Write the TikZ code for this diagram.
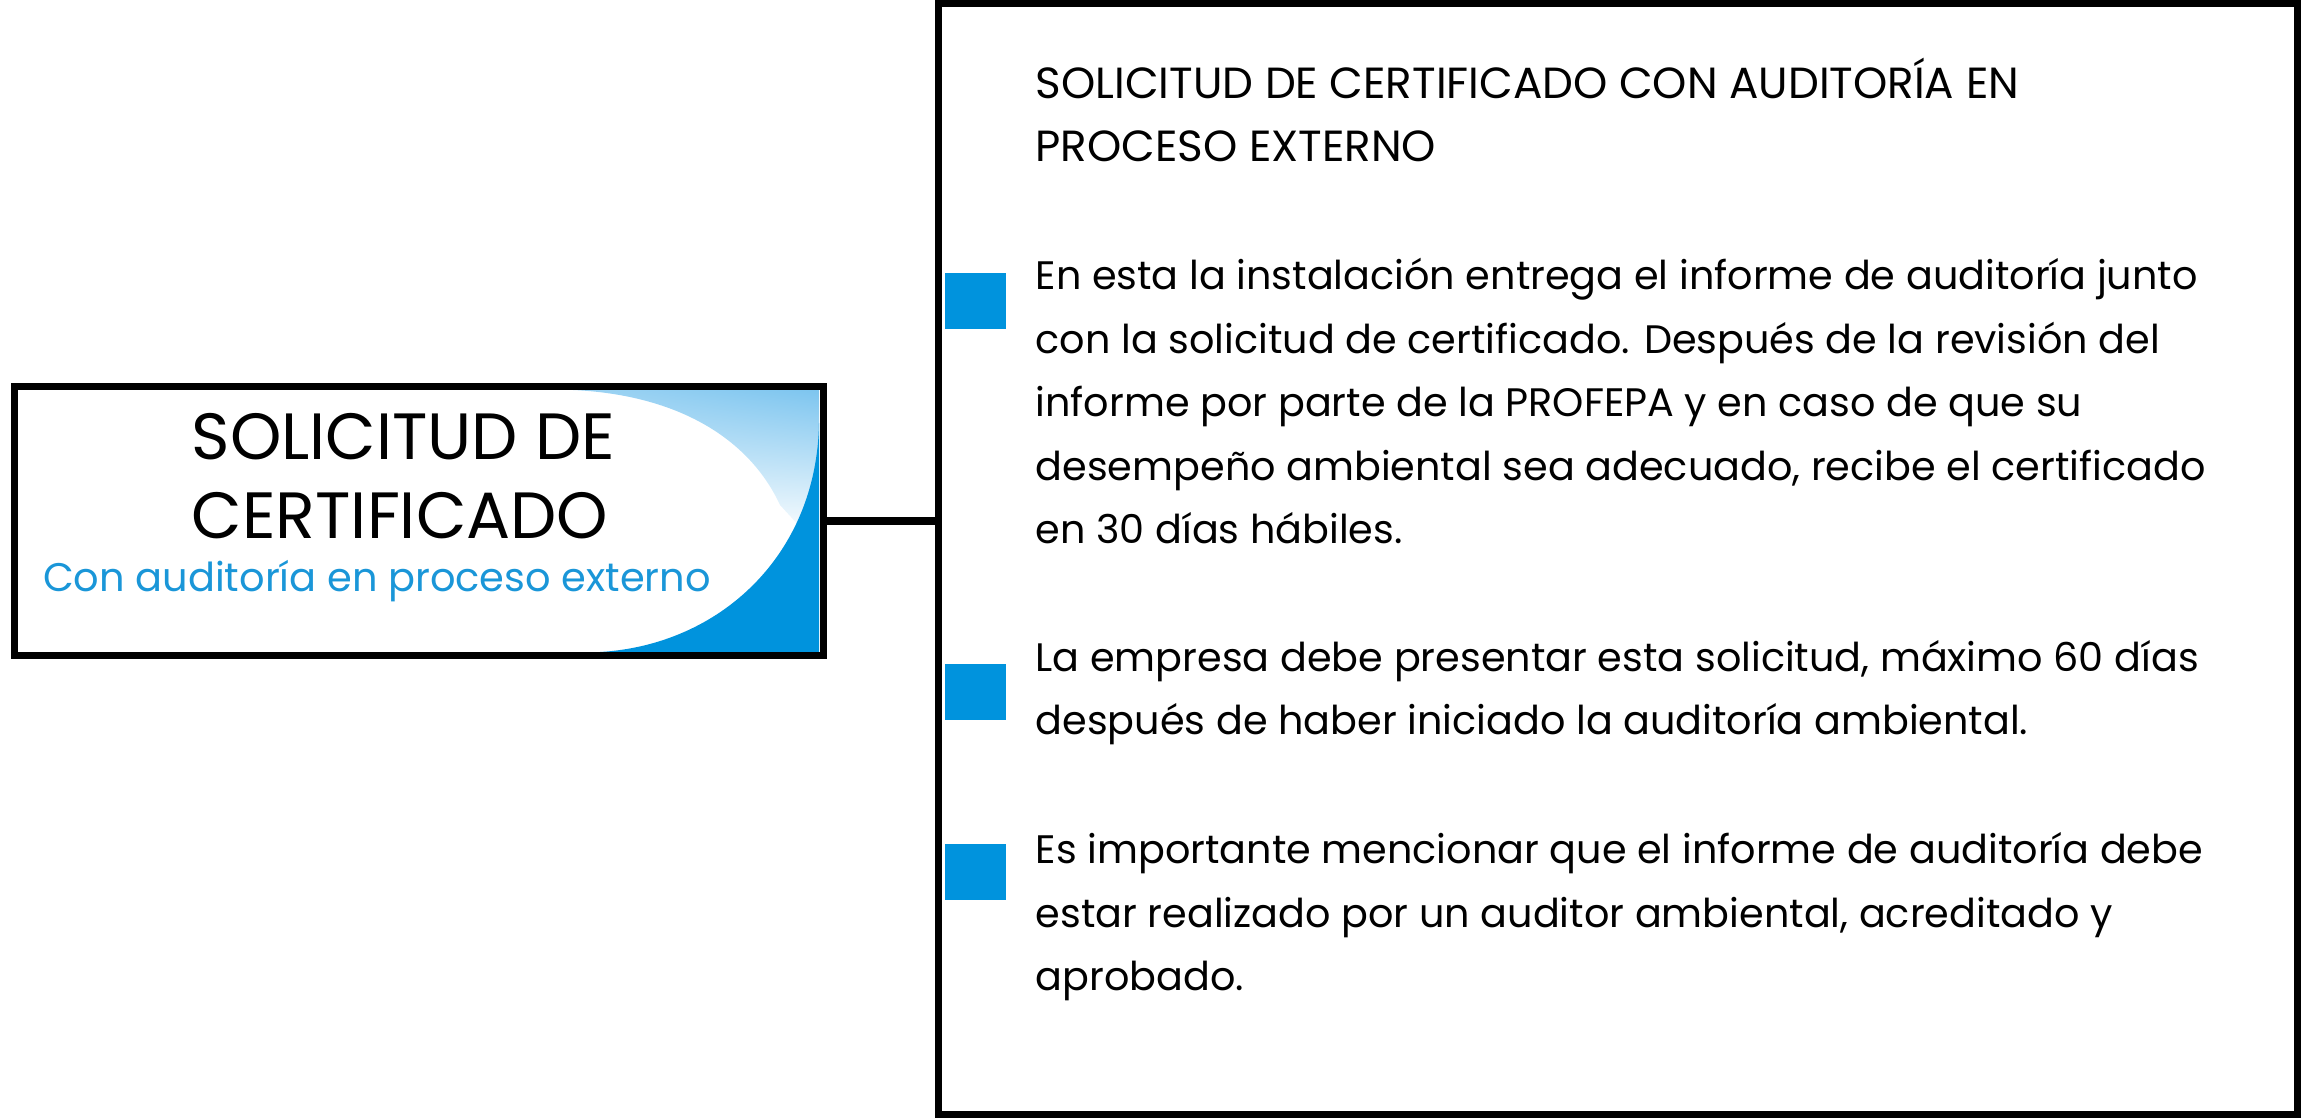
\documentclass[tikz,border=0pt]{standalone}
\usepackage{fontspec}
\setmainfont{Poppins}
\usetikzlibrary{shadings}
\definecolor{swoosh}{HTML}{0093DD}
\definecolor{swooshlight}{HTML}{7DC5EF}
\definecolor{subblue}{HTML}{1A96D8}
\tikzset{
  frame/.style={draw=black, line width=2pt, fill=none},
  bulletbox/.style={fill=swoosh, draw=none, minimum width=0.61cm, minimum height=0.56cm, inner sep=0pt},
  bodytext/.style={anchor=base west, inner sep=0pt, align=left, font=\fontsize{11.3}{18.07}\selectfont},
  headtext/.style={anchor=base west, inner sep=0pt, align=left, font=\fontsize{12.4}{18.07}\selectfont},
}
\begin{document}
\begin{tikzpicture}[x=0.01cm, y=-0.01cm]
                \useasboundingbox (0,0) rectangle (2302,1119);

                % swoosh in the left box
                \shade[upper left=swooshlight!75, upper right=swooshlight, lower left=white, lower right=white]
                    (573,390) .. controls (680,395) and (750,440) .. (780,505) -- (812,540) -- (819,540) -- (819,390) -- cycle;
                \fill[swoosh] (819,423) .. controls (817,555) and (720,645) .. (600,652) -- (819,652) -- cycle;

                \node[frame, minimum width=8.08cm, minimum height=2.68cm] (lbox) at (419,521) {};
                \node[frame, minimum width=13.59cm, minimum height=11.11cm] (rbox) at (1618,559) {};

                \draw[line width=2pt] (lbox.east) -- (lbox.east -| rbox.west);

                % base of a node with several lines = its last line
                \node[anchor=base west, inner sep=0pt, align=left, font=\fontsize{18.6}{22.5}\selectfont] (ltitle) at (191,539) {SOLICITUD DE\\CERTIFICADO};
                \node[anchor=base, inner sep=0pt, text=subblue, font=\fontsize{11.35}{12}\selectfont] (lsub) at (377,592) {Con auditoría en proceso externo};

                \node[headtext] (rtitle) at (1035,162) {SOLICITUD DE CERTIFICADO CON AUDITORÍA EN\\PROCESO EXTERNO};

                \node[bulletbox] (bulletA) at (975.5,301) {};
                \node[bulletbox] (bulletB) at (975.5,692) {};
                \node[bulletbox] (bulletC) at (975.5,872) {};

                \node[bodytext] (paraA) at (1035,544) {En esta la instalación entrega el informe de auditoría junto\\con la solicitud de certificado. Después de la revisión del\\informe por parte de la PROFEPA y en caso de que su\\desempeño ambiental sea adecuado, recibe el certificado\\en 30 días hábiles.};
                \node[bodytext] (paraB) at (1035,735) {La empresa debe presentar esta solicitud, máximo 60 días\\después de haber iniciado la auditoría ambiental.};
                \node[bodytext] (paraC) at (1035,991) {Es importante mencionar que el informe de auditoría debe\\estar realizado por un auditor ambiental, acreditado y\\aprobado.};
\end{tikzpicture}
\end{document}
